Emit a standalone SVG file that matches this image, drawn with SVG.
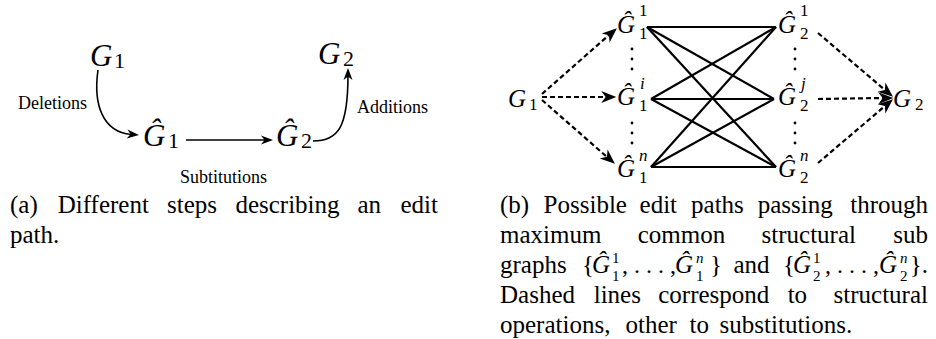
<svg xmlns="http://www.w3.org/2000/svg" width="936" height="339" viewBox="0 0 936 339">
<rect width="936" height="339" fill="#fff"/>
<g id="connectors-a">
<path d="M98,70 C93,105 103,132 131,134.5" fill="none" stroke="#000" stroke-width="1.6"/>
<polygon points="139,135 126.67,138.46 130.53,134.28 127.43,129.5" fill="#000"/>
<path d="M186,140 L266,140" fill="none" stroke="#000" stroke-width="1.6"/>
<polygon points="273,140 261,144.5 264.5,140 261,135.5" fill="#000"/>
<path d="M313,141 C338,141 348,128 348,75" fill="none" stroke="#000" stroke-width="1.6"/>
<polygon points="348,68 352.5,80 348,76.5 343.5,80" fill="#000"/>
<text font-family="Liberation Serif" font-size="18" x="18" y="109">Deletions</text>
<text font-family="Liberation Serif" font-size="18" x="180" y="183">Subtitutions</text>
<text font-family="Liberation Serif" font-size="18" x="357" y="113">Additions</text>
</g>
<g id="a-G1"><text font-family="Liberation Serif" font-style="italic" font-size="31" x="90" y="66">G</text><text font-family="Liberation Serif" font-size="22" x="114" y="68">1</text></g>
<g id="a-Gh1"><text font-family="Liberation Serif" font-style="italic" font-size="31" x="143" y="146">Ĝ</text><text font-family="Liberation Serif" font-size="22" x="168" y="148">1</text></g>
<g id="a-Gh2"><text font-family="Liberation Serif" font-style="italic" font-size="31" x="276" y="146">Ĝ</text><text font-family="Liberation Serif" font-size="22" x="301" y="148">2</text></g>
<g id="a-G2"><text font-family="Liberation Serif" font-style="italic" font-size="31" x="318" y="64">G</text><text font-family="Liberation Serif" font-size="22" x="343" y="66">2</text></g>

<g id="connectors-b">
<g fill="none" stroke="#000" stroke-width="2.2" stroke-dasharray="5 3">
<path d="M542,94 L609,35"/>
<path d="M542,97 L606,97"/>
<path d="M542,100 L607,157"/>
<path d="M818,33 L885,90"/>
<path d="M818,99 L883,98"/>
<path d="M818,163 L885,106"/>
</g>
<g fill="#000">
<polygon points="616.94,28.18 609.63,42.59 608.98,35.18 601.71,33.57"/>
<polygon points="616.25,97 601.25,103 605.65,97 601.25,91"/>
<polygon points="614.94,163.82 599.7,158.46 606.96,156.84 607.6,149.43"/>
<polygon points="892.95,96.81 877.64,91.66 884.88,89.94 885.42,82.52"/>
<polygon points="893.25,97.98 878.33,104.18 882.65,98.12 878.17,92.18"/>
<polygon points="892.95,99.19 885.42,113.48 884.88,106.06 877.64,104.34"/>
</g>
<g fill="none" stroke="#000" stroke-width="2.2">
<path d="M647,27 L776,27"/>
<path d="M647,27 L774,99"/>
<path d="M647,27 L776,167"/>
<path d="M651,99 L776,27"/>
<path d="M651,99 L774,99"/>
<path d="M651,99 L776,167"/>
<path d="M651,167 L776,27"/>
<path d="M651,167 L774,99"/>
<path d="M651,167 L776,167"/>
</g>
</g>
<g id="b-dots" fill="#000">
<circle cx="632" cy="49" r="1.4"/><circle cx="632" cy="59" r="1.4"/><circle cx="632" cy="69" r="1.4"/>
<circle cx="632" cy="123" r="1.4"/><circle cx="632" cy="133" r="1.4"/><circle cx="632" cy="143" r="1.4"/>
<circle cx="795" cy="49" r="1.4"/><circle cx="795" cy="59" r="1.4"/><circle cx="795" cy="69" r="1.4"/>
<circle cx="795" cy="123" r="1.4"/><circle cx="795" cy="133" r="1.4"/><circle cx="795" cy="143" r="1.4"/>
</g>
<g id="b-G1"><text font-family="Liberation Serif" font-style="italic" font-size="25" x="508" y="107">G</text><text font-family="Liberation Serif" font-size="17" x="529" y="110">1</text></g>
<g id="b-Gh1-1"><text font-family="Liberation Serif" font-style="italic" font-size="25" x="617" y="33">Ĝ</text><text font-family="Liberation Serif" font-size="17" x="639" y="16">1</text><text font-family="Liberation Serif" font-size="17" x="639" y="39">1</text></g>
<g id="b-Gh1-i"><text font-family="Liberation Serif" font-style="italic" font-size="25" x="617" y="105">Ĝ</text><text font-family="Liberation Serif" font-style="italic" font-size="17" x="640" y="89">i</text><text font-family="Liberation Serif" font-size="17" x="639" y="111">1</text></g>
<g id="b-Gh1-n"><text font-family="Liberation Serif" font-style="italic" font-size="25" x="617" y="177">Ĝ</text><text font-family="Liberation Serif" font-style="italic" font-size="17" x="639" y="161">n</text><text font-family="Liberation Serif" font-size="17" x="639" y="183">1</text></g>
<g id="b-Gh2-1"><text font-family="Liberation Serif" font-style="italic" font-size="25" x="778" y="33">Ĝ</text><text font-family="Liberation Serif" font-size="17" x="800" y="16">1</text><text font-family="Liberation Serif" font-size="17" x="800" y="39">2</text></g>
<g id="b-Gh2-j"><text font-family="Liberation Serif" font-style="italic" font-size="25" x="778" y="105">Ĝ</text><text font-family="Liberation Serif" font-style="italic" font-size="17" x="801" y="89">j</text><text font-family="Liberation Serif" font-size="17" x="800" y="111">2</text></g>
<g id="b-Gh2-n"><text font-family="Liberation Serif" font-style="italic" font-size="25" x="778" y="177">Ĝ</text><text font-family="Liberation Serif" font-style="italic" font-size="17" x="800" y="161">n</text><text font-family="Liberation Serif" font-size="17" x="800" y="183">2</text></g>
<g id="b-G2"><text font-family="Liberation Serif" font-style="italic" font-size="25" x="893" y="107">G</text><text font-family="Liberation Serif" font-size="17" x="915" y="110">2</text></g>

<g id="caption-a">
<text font-family="Liberation Serif" font-size="25" x="10" y="213">(a)</text>
<text font-family="Liberation Serif" font-size="25" x="103.35" y="213" text-anchor="middle">Different</text>
<text font-family="Liberation Serif" font-size="25" x="192.05" y="213" text-anchor="middle">steps</text>
<text font-family="Liberation Serif" font-size="25" x="287.5" y="213" text-anchor="middle">describing</text>
<text font-family="Liberation Serif" font-size="25" x="369.25" y="213" text-anchor="middle">an</text>
<text font-family="Liberation Serif" font-size="25" x="438" y="213" text-anchor="end">edit</text>
<text font-family="Liberation Serif" font-size="25" x="10" y="243">path.</text>
</g>
<g id="caption-b">
<text font-family="Liberation Serif" font-size="25" x="500" y="213">(b)</text>
<text font-family="Liberation Serif" font-size="25" x="585.3" y="213" text-anchor="middle">Possible</text>
<text font-family="Liberation Serif" font-size="25" x="658.3" y="213" text-anchor="middle">edit</text>
<text font-family="Liberation Serif" font-size="25" x="717.45" y="213" text-anchor="middle">paths</text>
<text font-family="Liberation Serif" font-size="25" x="795.15" y="213" text-anchor="middle">passing</text>
<text font-family="Liberation Serif" font-size="25" x="928" y="213" text-anchor="end">through</text>
<text font-family="Liberation Serif" font-size="25" x="500" y="243">maximum</text>
<text font-family="Liberation Serif" font-size="25" x="681.5" y="243" text-anchor="middle">common</text>
<text font-family="Liberation Serif" font-size="25" x="808.75" y="243" text-anchor="middle">structural</text>
<text font-family="Liberation Serif" font-size="25" x="928" y="243" text-anchor="end">sub</text>
<text font-family="Liberation Serif" font-size="25" x="500" y="273">graphs</text>
<text font-family="Liberation Serif" font-size="25" x="582" y="273">{</text>
<text font-family="Liberation Serif" font-style="italic" font-size="25" x="592" y="273">Ĝ</text>
<text font-family="Liberation Serif" font-size="15" x="612" y="263">1</text>
<text font-family="Liberation Serif" font-size="15" x="612" y="281">1</text>
<text font-family="Liberation Serif" font-size="24" x="622" y="273">, . . . ,</text>
<text font-family="Liberation Serif" font-style="italic" font-size="25" x="675" y="273">Ĝ</text>
<text font-family="Liberation Serif" font-style="italic" font-size="15" x="696" y="263">n</text>
<text font-family="Liberation Serif" font-size="15" x="696" y="281">1</text>
<text font-family="Liberation Serif" font-size="25" x="710" y="273">}</text>
<text font-family="Liberation Serif" font-size="25" x="751.5" y="273" text-anchor="middle">and</text>
<text font-family="Liberation Serif" font-size="25" x="783" y="273">{</text>
<text font-family="Liberation Serif" font-style="italic" font-size="25" x="793" y="273">Ĝ</text>
<text font-family="Liberation Serif" font-size="15" x="813" y="263">1</text>
<text font-family="Liberation Serif" font-size="15" x="813" y="281">2</text>
<text font-family="Liberation Serif" font-size="24" x="825" y="273">, . . . ,</text>
<text font-family="Liberation Serif" font-style="italic" font-size="25" x="879" y="273">Ĝ</text>
<text font-family="Liberation Serif" font-style="italic" font-size="15" x="900" y="263">n</text>
<text font-family="Liberation Serif" font-size="15" x="900" y="281">2</text>
<text font-family="Liberation Serif" font-size="25" x="928" y="273" text-anchor="end">}.</text>
<text font-family="Liberation Serif" font-size="25" x="500" y="303">Dashed</text>
<text font-family="Liberation Serif" font-size="25" x="617.3" y="303" text-anchor="middle">lines</text>
<text font-family="Liberation Serif" font-size="25" x="713.8" y="303" text-anchor="middle">correspond</text>
<text font-family="Liberation Serif" font-size="25" x="797.4" y="303" text-anchor="middle">to</text>
<text font-family="Liberation Serif" font-size="25" x="928" y="303" text-anchor="end">structural</text>
<text font-family="Liberation Serif" font-size="25" x="500" y="333">operations,</text>
<text font-family="Liberation Serif" font-size="25" x="625.5" y="333">other</text>
<text font-family="Liberation Serif" font-size="25" x="689.6" y="333">to</text>
<text font-family="Liberation Serif" font-size="25" x="719.6" y="333">substitutions.</text>
</g>
</svg>
